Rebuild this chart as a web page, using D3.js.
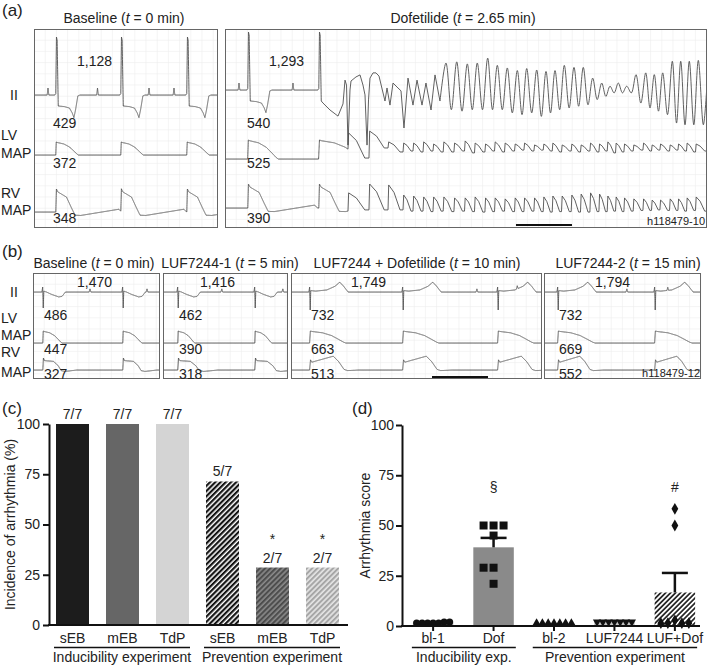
<!DOCTYPE html>
<html><head><meta charset="utf-8">
<script src="https://cdn.jsdelivr.net/npm/d3@7"></script>
<style>body{margin:0;background:#fff}text{font-family:"Liberation Sans",Arial,Helvetica,sans-serif}</style>
</head><body><svg id="c" width="709" height="666"></svg>
<script>
// ================= DATA =================
// ---- Panel (a) ----
const aTitles = ["Baseline", "Dofetilide"];
const aTimes = ["0", "2.65"];
const aRR = ["1,128", "1,293"];
const aQT = ["429", "540"];
const aLVd = ["372", "525"];
const aRVd = ["348", "390"];
const aCode = "h118479-10";
const aLeftBeats = [0.393, 1.554, 2.732];     // QRS times (s)
const aLeftP = [0.25, 1.134, 2.054, 2.5];      // P-wave times (s)
const aRightBeats = [0.411, 1.679];
const aRightP = [0.25, 1.214];
const aLeftLVdur = [0.40, 0.40, 0.40];
const aLeftRVdur = [0.34, 0.34, 0.34];
const aRightLVdur = [0.54, 0.78];
const aRightRVdur = [0.36, 0.36];
// onset of TdP, lead II [t (s), mV]
const iiOnset = [[1.750,-0.45],[1.875,-0.69],[2.018,-0.90],[2.107,-0.48],[2.143,0.34],[2.170,0.17],[2.196,-1.90],[2.232,0],[2.250,0.31],[2.339,0.45],[2.411,0.52],[2.464,0.17],[2.500,-0.17],[2.536,-1.90],[2.563,-0.34],[2.589,0.41],[2.643,0.59],[2.696,0.59],[2.750,0.48],[2.857,-0.38],[2.893,0.07],[2.946,-0.52],[3.000,0.24],[3.089,0.07],[3.143,-0.03],[3.196,-1.31],[3.268,0.41],[3.357,-0.52],[3.429,0.34],[3.518,-0.52],[3.589,0.24],[3.679,-0.69],[3.750,0.52],[3.839,-0.38]];
// TdP cycles, lead II
const tdpT = [3.946,4.138,4.327,4.505,4.691,4.863,5.041,5.220,5.388,5.566,5.732,5.893,6.059,6.232,6.398,6.566,6.727,6.875,7.023,7.173,7.339,7.513,7.666,7.816,7.988,8.138,8.291,8.452];
const tdpPk = [0.93,0.97,0.90,0.93,1.10,0.85,0.76,0.67,0.74,0.69,0.64,0.67,0.85,0.78,0.78,0.41,0.24,0.13,0.24,0.13,0.53,0.59,0.53,0.59,0.99,0.99,0.99,1.02];
const tdpTr = [-0.68,-0.73,-0.68,-0.68,-0.68,-0.68,-0.79,-0.85,-0.79,-0.91,-0.79,-0.68,-0.62,-0.56,-0.51,-0.33,-0.22,-0.10,-0.10,-0.10,-0.45,-0.62,-0.73,-0.85,-1.14,-1.20,-1.20,-1.20];
// MAP activations during VT (s) and per-cycle peak / trough (relative units)
const mapVtT = [2.196,2.571,2.911,3.179,3.357,3.536,3.714,3.896,4.088,4.277,4.455,4.641,4.813,4.991,5.170,5.338,5.516,5.682,5.843,6.009,6.182,6.348,6.516,6.677,6.825,6.973,7.123,7.289,7.463,7.616,7.766,7.938,8.088,8.241,8.402];
const lvPk = [1.37,1.47,0.9,0.84,0.84,0.9,0.79,0.9,0.84,0.95,0.84,0.79,0.9,0.84,0.79,0.84,0.74,0.79,0.84,0.74,0.79,0.74,0.84,0.79,0.9,0.84,0.79,0.74,0.84,0.74,0.79,0.74,0.79,0.84,0.79];
const lvTr = [0.05,0.58,0.37,0.42,0.37,0.42,0.37,0.37,0.42,0.32,0.37,0.42,0.37,0.42,0.47,0.42,0.47,0.42,0.37,0.42,0.37,0.42,0.37,0.42,0.32,0.37,0.42,0.47,0.42,0.47,0.42,0.47,0.42,0.37,0.42];
const rvPk = [0.63,1.0,0.96,0.54,0.5,0.46,0.46,0.46,0.42,0.42,0.46,0.42,0.42,0.38,0.42,0.42,0.42,0.46,0.5,0.5,0.54,0.58,0.63,0.58,0.5,0.46,0.42,0.38,0.38,0.33,0.33,0.38,0.38,0.42,0.46];
const rvTr = [-0.08,-0.08,-0.08,-0.13,-0.13,-0.15,-0.13,-0.15,-0.13,-0.15,-0.17,-0.15,-0.13,-0.15,-0.15,-0.13,-0.15,-0.17,-0.15,-0.15,-0.17,-0.17,-0.15,-0.15,-0.13,-0.15,-0.13,-0.1,-0.1,-0.08,-0.1,-0.1,-0.13,-0.1,-0.13];

// ---- Panel (b) ----
const bTitles = ["Baseline", "LUF7244-1", "LUF7244 + Dofetilide", "LUF7244-2"];
const bTimes = ["0", "5", "10", "15"];
const bRR = ["1,470", "1,416", "1,749", "1,794"];
const bQT = ["486", "462", "732", "732"];
const bLVd = ["447", "390", "663", "669"];
const bRVd = ["327", "318", "513", "552"];
const bCode = "h118479-12";
const bBeats = [[0.179,1.607],[0.268,1.643],[0.339,2.0,3.696],[0.25,1.982]];
const bP = [[1.018,2.036],[1.05,2.14],[3.32,4.04],[1.48,2.21]];
const bLVdur = [0.34, 0.30, 0.64, 0.66];
const bRVdur = [0.34, 0.40, 0.64, 0.60];
const bDof = [false, false, true, true];

// ---- Waveform templates [t, value] ----
const tplIIa = [[-0.02,0],[-0.004,0.05],[0.008,2.0],[0.02,1.9],[0.04,-0.38],[0.15,-0.4],[0.24,-0.45],[0.29,-0.62],[0.32,-0.78],[0.35,-0.5],[0.39,-0.03],[0.43,0]];
const tplP = [[-0.015,0],[0,0.24],[0.015,0]];
const tplIIb0 = [[-0.02,0],[-0.006,0.17],[0.004,-0.55],[0.014,0.03],[0.06,0],[0.15,-0.08],[0.28,-0.17],[0.34,-0.15],[0.40,0],[0.45,0]];
const tplIIb1 = [[-0.02,0],[-0.006,0.17],[0.004,-0.62],[0.014,0.05],[0.1,0.03],[0.3,0.07],[0.45,0.2],[0.53,0.34],[0.6,0.2],[0.68,0],[0.72,0]];
const tplLV = [[-0.01,0],[0.01,1.0],[0.06,0.96],[0.35,0.85],[0.6,0.62],[0.8,0.3],[0.93,0.08],[1.0,0],[1.05,0]];
const tplRVa = [[-0.01,0],[0.02,1.0],[0.1,0.87],[0.55,0.65],[0.8,0.2],[1.0,-0.14],[1.3,-0.15],[3.3,0.12],[3.45,0]];
const tplRVflat = [[-0.01,0],[0.02,1.0],[0.08,0.78],[0.55,0.72],[0.8,0.35],[0.95,-0.05],[1.15,-0.12],[1.8,0]];
const tplRVdome = [[-0.01,0],[0.015,0.85],[0.05,0.65],[0.65,1.15],[0.8,0.7],[0.95,0.05],[1.05,-0.05],[1.4,0]];

// ---- Panel (c) ----
const cCategories = ["sEB","mEB","TdP","sEB","mEB","TdP"];
const cIncidence = [100, 100, 100, 71.4, 28.6, 28.6];
const cFractions = ["7/7","7/7","7/7","5/7","2/7","2/7"];
const cSignif = ["","","","","*","*"];
const cGroups = ["Inducibility experiment", "Prevention experiment"];
const cGroupIdx = [[0,2],[3,5]];
const cTicks = [0, 25, 50, 75, 100];

// ---- Panel (d) ----
const dCategories = ["bl-1","Dof","bl-2","LUF7244","LUF+Dof"];
const dBl1 = [1.5,1.5,1.5,1.5,2.0,1.5,2.0];
const dDof = [50,50,50,45,29,29,21];
const dBl2 = [1,1,1,1,1,1,1];
const dLuf = [2,2,2,2,2,2,2];
const dLufDof = [58.3,50,2.8,1.4,1.4,1.4,1.4];
const dSignif = ["","§","","","#"];
const dGroups = ["Inducibility exp.", "Prevention experiment"];
const dGroupIdx = [[0,1],[2,4]];
const dTicks = [0, 25, 50, 75, 100];

// ================= DRAWING =================
const svg = d3.select("#c");
const defs = svg.append("defs");
const PXS = 56;                 // px per second on the recordings
const TRACE = "#4f4f4f";
const INK = "#222";
let clipN = 0;

function txt(x, y, s, o = {}) {
  return svg.append("text").attr("x", x).attr("y", y).attr("font-size", o.size || 14)
    .attr("fill", o.fill || INK).attr("text-anchor", o.anchor || "start").text(s);
}
function title(x, y, name, time) {
  const t = svg.append("text").attr("x", x).attr("y", y).attr("text-anchor", "middle")
    .attr("font-size", 14).attr("fill", INK);
  t.append("tspan").text(name + " (");
  t.append("tspan").attr("font-style", "italic").text("t");
  t.append("tspan").text(" = " + time + " min)");
}
function interp(tpl, dt) {
  if (dt <= tpl[0][0] || dt >= tpl[tpl.length - 1][0]) return 0;
  for (let i = 1; i < tpl.length; i++) {
    if (dt <= tpl[i][0]) {
      const [t0, v0] = tpl[i - 1], [t1, v1] = tpl[i];
      return v0 + (v1 - v0) * (dt - t0) / (t1 - t0);
    }
  }
  return 0;
}
function sumTrace(t0, t1, events) {
  const pts = [];
  for (let ms = Math.round(t0 * 1000); ms <= Math.round(t1 * 1000); ms++) {
    const t = ms / 1000; let v = 0;
    for (const e of events) v += (e.g || 1) * interp(e.tpl, (t - e.t) / (e.ts || 1));
    pts.push([t, v]);
  }
  return pts;
}
function vtCycles(times, pk, tr, startVal, tEnd) {
  const pts = []; let prev = startVal;
  times.forEach((ti, i) => {
    const tn = i < times.length - 1 ? times[i + 1] : tEnd; const dt = tn - ti;
    pts.push([ti, prev], [ti + 0.012, pk[i]], [ti + 0.4 * dt, pk[i] - 0.3 * (pk[i] - tr[i])], [ti + 0.8 * dt, tr[i]], [tn, tr[i]]);
    prev = tr[i];
  });
  return pts;
}
function makeBox(b) {
  const dur = (b.x1 - b.x0) / PXS;
  const x = d3.scaleLinear().domain([0, dur]).range([b.x0, b.x1]);
  const g = svg.append("g");
  g.selectAll(null).data(d3.range(0.2, dur, 0.2)).join("line")
    .attr("x1", d => x(d)).attr("x2", d => x(d)).attr("y1", b.y0).attr("y2", b.y1)
    .attr("stroke", "#ececec").attr("stroke-width", 0.6);
  g.selectAll(null).data(d3.range(b.y0 + 11.2, b.y1, 11.2)).join("line")
    .attr("x1", b.x0).attr("x2", b.x1).attr("y1", d => d).attr("y2", d => d)
    .attr("stroke", "#ececec").attr("stroke-width", 0.6);
  const id = "clip" + (clipN++);
  defs.append("clipPath").attr("id", id).append("rect")
    .attr("x", b.x0).attr("y", b.y0).attr("width", b.x1 - b.x0).attr("height", b.y1 - b.y0);
  const tg = svg.append("g").attr("clip-path", `url(#${id})`);
  return { x, dur, tg, b };
}
function frame(box) {
  const b = box.b;
  svg.append("rect").attr("x", b.x0 + 0.5).attr("y", b.y0 + 0.5).attr("width", b.x1 - b.x0 - 1)
    .attr("height", b.y1 - b.y0 - 1).attr("fill", "none").attr("stroke", "#666").attr("stroke-width", 1);
}
function drawTrace(box, pts, base, gain, curve) {
  const y = d3.scaleLinear().domain([0, 1]).range([base, base - gain]);
  box.tg.append("path")
    .attr("d", d3.line().x(d => box.x(d[0])).y(d => y(d[1])).curve(curve || d3.curveLinear)(pts))
    .attr("fill", "none").attr("stroke", TRACE).attr("stroke-width", 0.9).attr("stroke-linejoin", "round");
}
function scaleBar(box, t0, y) {
  svg.append("line").attr("x1", box.x(t0)).attr("x2", box.x(t0 + 1)).attr("y1", y).attr("y2", y)
    .attr("stroke", "#111").attr("stroke-width", 2);
}

// ---------- Panel (a) ----------
txt(2, 16, "(a)", { size: 17 });
const aL = makeBox({ x0: 34, x1: 218, y0: 29, y1: 228 });
const aR = makeBox({ x0: 225, x1: 707, y0: 29, y1: 228 });
title(124, 23, aTitles[0], aTimes[0]);
title(463, 23, aTitles[1], aTimes[1]);

// left recording
{
  const ev = aLeftBeats.map(t => ({ t, tpl: tplIIa })).concat(aLeftP.map(t => ({ t, tpl: tplP })));
  drawTrace(aL, sumTrace(0, aL.dur, ev), 95, 29);
  drawTrace(aL, sumTrace(0, aL.dur, aLeftBeats.map((t, i) => ({ t, tpl: tplLV, ts: aLeftLVdur[i] }))), 155, 13);
  drawTrace(aL, sumTrace(0, aL.dur, aLeftBeats.map((t, i) => ({ t, tpl: tplRVa, ts: aLeftRVdur[i] }))), 212, 23);
}
// right recording
{
  const ev = aRightBeats.map(t => ({ t, tpl: tplIIa })).concat(aRightP.map(t => ({ t, tpl: tplP })));
  const seg = sumTrace(0, 1.719, ev).concat(iiOnset);
  drawTrace(aR, seg, 90, 29);
  const tdp = [iiOnset[iiOnset.length - 1]];
  tdpT.forEach((tp, i) => {
    const tn = i < tdpT.length - 1 ? tdpT[i + 1] : tp + 0.18;
    tdp.push([tp, tdpPk[i]], [(tp + tn) / 2, tdpTr[i]]);
  });
  tdp.push([aR.dur, 0.2]);
  drawTrace(aR, tdp, 90, 29, d3.curveCatmullRom.alpha(0.5));

  const lv1 = sumTrace(0, mapVtT[0], aRightBeats.map((t, i) => ({ t, tpl: tplLV, ts: aRightLVdur[i] })));
  drawTrace(aR, lv1.concat(vtCycles(mapVtT, lvPk, lvTr, lv1[lv1.length - 1][1], aR.dur)), 159, 19);
  const rv1 = sumTrace(0, mapVtT[0], aRightBeats.map((t, i) => ({ t, tpl: tplRVa, ts: aRightRVdur[i] })));
  drawTrace(aR, rv1.concat(vtCycles(mapVtT, rvPk, rvTr, rv1[rv1.length - 1][1], aR.dur)), 208, 24);
}
frame(aL); frame(aR);
scaleBar(aR, 5.196, 225);
txt(705, 225, aCode, { size: 11, anchor: "end" });
// row labels
txt(10, 100, "II"); txt(1, 140, "LV"); txt(1, 158, "MAP"); txt(1, 198, "RV"); txt(1, 215, "MAP");
// numbers
txt(77, 66, aRR[0]); txt(269, 66, aRR[1]);
txt(53, 128, aQT[0]); txt(247, 128, aQT[1]);
txt(53, 168, aLVd[0]); txt(247, 168, aLVd[1]);
txt(53, 223, aRVd[0]); txt(247, 223, aRVd[1]);

// ---------- Panel (b) ----------
txt(2, 257, "(b)", { size: 17 });
const bBoxes = [{ x0: 33, x1: 160 }, { x0: 163, x1: 288 }, { x0: 291, x1: 542 }, { x0: 544, x1: 701 }]
  .map(b => makeBox({ x0: b.x0, x1: b.x1, y0: 273, y1: 379 }));
const bRRx = [77, 200, 351, 595];
const bTitleX = [94, 230, 417, 628];
bBoxes.forEach((box, i) => {
  title(bTitleX[i], 268, bTitles[i], bTimes[i]);
  const ev = bBeats[i].map(t => ({ t, tpl: bDof[i] ? tplIIb1 : tplIIb0 }))
    .concat(bP[i].map(t => ({ t, tpl: tplP, g: 0.45 })));
  drawTrace(box, sumTrace(0, box.dur, ev), 292, 29);
  drawTrace(box, sumTrace(0, box.dur, bBeats[i].map(t => ({ t, tpl: tplLV, ts: bLVdur[i] }))), 343, 12);
  drawTrace(box, sumTrace(0, box.dur, bBeats[i].map(t => ({ t, tpl: bDof[i] ? tplRVdome : tplRVflat, ts: bRVdur[i] }))), 370, 12);
  frame(box);
  const qx = box.x(bBeats[i][0]) + 1;
  txt(bRRx[i], 287, bRR[i]);
  txt(qx, 320, bQT[i]);
  txt(qx, 354, bLVd[i]);
  txt(qx, 379, bRVd[i]);
});
scaleBar(bBoxes[2], 2.518, 377);
txt(700, 377, bCode, { size: 11, anchor: "end" });
txt(10, 297, "II"); txt(1, 323, "LV"); txt(1, 340, "MAP"); txt(1, 357, "RV"); txt(1, 377, "MAP");

// ---------- hatch patterns ----------
function hatch(id, bg, fg, w, period) {
  const p = defs.append("pattern").attr("id", id).attr("patternUnits", "userSpaceOnUse")
    .attr("width", period).attr("height", period).attr("patternTransform", "rotate(45)");
  p.append("rect").attr("width", period).attr("height", period).attr("fill", bg);
  p.append("rect").attr("width", w).attr("height", period).attr("fill", fg);
}
hatch("hK", "#ffffff", "#141414", 2.2, 3.7);
hatch("hM", "#8a8a8a", "#4d4d4d", 2.1, 3.7);
hatch("hL", "#e4e4e4", "#a6a6a6", 2.0, 3.7);
hatch("hD", "#ffffff", "#222222", 1.7, 3.5);

function styleAxis(g) {
  g.select(".domain").attr("stroke", "#111").attr("stroke-width", 2);
  g.selectAll(".tick line").attr("stroke", "#111").attr("stroke-width", 2);
  g.selectAll(".tick text").attr("font-size", 14).attr("fill", INK)
    .attr("font-family", '"Liberation Sans", Arial, sans-serif');
}

// ---------- Panel (c) ----------
txt(2, 414, "(c)", { size: 17 });
{
  const x = d3.scaleBand().domain(d3.range(cCategories.length)).range([49, 346]).paddingInner(0.34).paddingOuter(0.14);
  const y = d3.scaleLinear().domain([0, 100]).range([625, 424]);
  const fills = ["#1c1c1c", "#666666", "#d4d4d4", "url(#hK)", "url(#hM)", "url(#hL)"];
  svg.append("g").selectAll("rect").data(cIncidence).join("rect")
    .attr("x", (d, i) => x(i)).attr("width", x.bandwidth())
    .attr("y", d => y(d)).attr("height", d => y(0) - y(d)).attr("fill", (d, i) => fills[i]);
  const ya = svg.append("g").attr("transform", "translate(49,0)")
    .call(d3.axisLeft(y).tickValues(cTicks).tickSize(6).tickSizeOuter(0).tickPadding(3));
  styleAxis(ya);
  svg.append("line").attr("x1", 48).attr("x2", 348).attr("y1", y(0)).attr("y2", y(0)).attr("stroke", "#111").attr("stroke-width", 2);
  cFractions.forEach((f, i) => txt(x(i) + x.bandwidth() / 2, y(cIncidence[i]) - 5, f, { anchor: "middle" }));
  cSignif.forEach((s, i) => { if (s) txt(x(i) + x.bandwidth() / 2, y(cIncidence[i]) - 24, s, { anchor: "middle" }); });
  cCategories.forEach((c, i) => txt(x(i) + x.bandwidth() / 2, 643, c, { anchor: "middle" }));
  cGroupIdx.forEach(([a, b], k) => {
    const x0 = x(a) - 2, x1 = x(b) + x.bandwidth() + 1;
    svg.append("line").attr("x1", x0).attr("x2", x1).attr("y1", 647.5).attr("y2", 647.5).attr("stroke", "#111").attr("stroke-width", 1.6);
    txt((x0 + x1) / 2, 662, cGroups[k], { anchor: "middle" });
  });
  svg.append("text").attr("transform", `translate(15,${(y(0) + y(100)) / 2}) rotate(-90)`)
    .attr("text-anchor", "middle").attr("font-size", 14).attr("fill", INK).text("Incidence of arrhythmia (%)");
}

// ---------- Panel (d) ----------
txt(352, 414, "(d)", { size: 17 });
{
  const series = [dBl1, dDof, dBl2, dLuf, dLufDof];
  const x = d3.scaleBand().domain(d3.range(dCategories.length)).range([402, 706]).paddingInner(0.33).paddingOuter(0.18);
  const y = d3.scaleLinear().domain([0, 100]).range([626, 425]);
  const fills = ["#c4c4c4", "#8a8a8a", "#c4c4c4", "#c4c4c4", "url(#hD)"];
  const means = series.map(s => d3.mean(s));
  const sems = series.map(s => d3.deviation(s) / Math.sqrt(s.length) || 0);
  svg.append("g").selectAll("rect").data(means).join("rect")
    .attr("x", (d, i) => x(i)).attr("width", x.bandwidth())
    .attr("y", d => y(d)).attr("height", d => y(0) - y(d)).attr("fill", (d, i) => fills[i]);
  // error bars (upper SEM)
  means.forEach((m, i) => {
    const cx = x(i) + x.bandwidth() / 2;
    if (sems[i] < 1) return;
    svg.append("line").attr("x1", cx).attr("x2", cx).attr("y1", y(m)).attr("y2", y(m + sems[i])).attr("stroke", "#111").attr("stroke-width", 2.5);
    svg.append("line").attr("x1", cx - 13).attr("x2", cx + 13).attr("y1", y(m + sems[i])).attr("y2", y(m + sems[i])).attr("stroke", "#111").attr("stroke-width", 2.5);
  });
  // points (beeswarm)
  const symbols = [d3.symbolCircle, d3.symbolSquare, d3.symbolTriangle, d3.symbolTriangle, d3.symbolDiamond];
  const sizes = [40, 64, 30, 30, 40];
  const spacing = [5.5, 10, 5.8, 5.8, 7];
  series.forEach((s, i) => {
    const cx = x(i) + x.bandwidth() / 2; const placed = [];
    s.forEach(v => {
      const py = y(v);
      for (let k = 0; k < 30; k++) {
        const off = (k % 2 === 1 ? -1 : 1) * Math.ceil(k / 2) * spacing[i];
        const px = cx + off;
        if (placed.every(p => Math.hypot(p[0] - px, p[1] - py) >= spacing[i] - 0.01)) { placed.push([px, py]); break; }
      }
    });
    svg.append("g").selectAll("path").data(placed).join("path")
      .attr("d", d3.symbol().type(symbols[i]).size(sizes[i]))
      .attr("transform", d => `translate(${d[0]},${d[1] - (i === 2 ? 1 : 0)})${i === 3 ? " rotate(180)" : ""}`)
      .attr("fill", "#111");
  });
  const ya = svg.append("g").attr("transform", "translate(402,0)")
    .call(d3.axisLeft(y).tickValues(dTicks).tickSize(6).tickSizeOuter(0).tickPadding(2));
  styleAxis(ya);
  svg.append("line").attr("x1", 401).attr("x2", 700).attr("y1", y(0)).attr("y2", y(0)).attr("stroke", "#111").attr("stroke-width", 2);
  dCategories.forEach((c, i) => {
    const cx = x(i) + x.bandwidth() / 2;
    svg.append("line").attr("x1", cx).attr("x2", cx).attr("y1", y(0)).attr("y2", y(0) + 5).attr("stroke", "#111").attr("stroke-width", 2);
    txt(cx, 643, c, { anchor: "middle" });
    if (dSignif[i]) txt(cx, 492, dSignif[i], { anchor: "middle" });
  });
  dGroupIdx.forEach(([a, b], k) => {
    const x0 = x(a) - 1, x1 = x(b) + x.bandwidth() + 2;
    svg.append("line").attr("x1", x0).attr("x2", x1).attr("y1", 647.5).attr("y2", 647.5).attr("stroke", "#111").attr("stroke-width", 1.6);
    txt((x0 + x1) / 2, 662, dGroups[k], { anchor: "middle" });
  });
  svg.append("text").attr("transform", `translate(370,${(y(0) + y(100)) / 2}) rotate(-90)`)
    .attr("text-anchor", "middle").attr("font-size", 14).attr("fill", INK).text("Arrhythmia score");
}
</script></body></html>
